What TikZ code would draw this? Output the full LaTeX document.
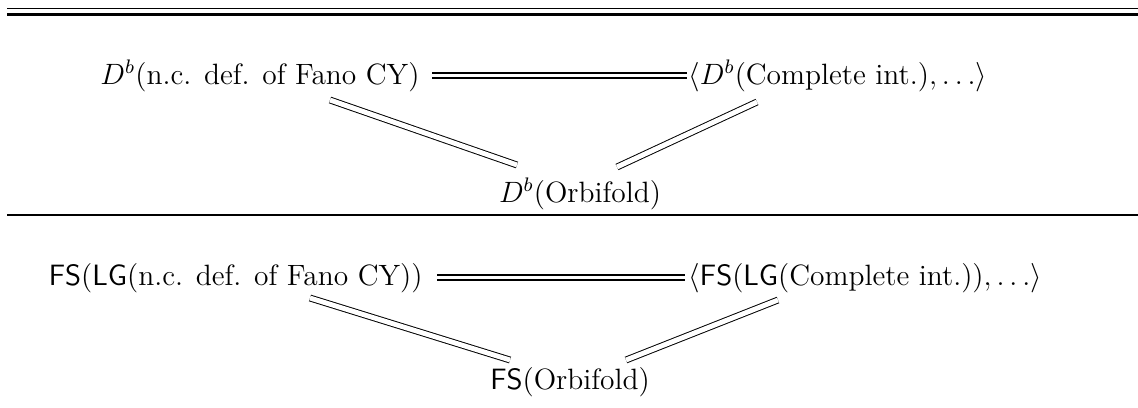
\documentclass[tikz,border=0pt]{standalone}
\usetikzlibrary{calc}
\begin{document}
\begin{tikzpicture}[x=0.4082pt,y=-0.4082pt,font=\fontsize{12}{14}\selectfont,
        lbl/.style={inner sep=0pt},
        eq/.style={double,line width=0.4pt,double distance=2pt},
        eqh/.style={double,line width=0.8pt,double distance=1.5pt}]
            \def\W{1138}
            \def\yA{84}
            \def\yB{202}
            \def\yC{285}
            \def\yD{389}

            \useasboundingbox (0,0) rectangle (\W,407);

            % rules
            \draw[line width=0.7pt] (7,8.5) -- (\W,8.5);
            \draw[line width=1.2pt] (7,14.5) -- (\W,14.5);
            \draw[line width=0.8pt] (7,215) -- (\W,215);

            % derived categories
            \node[lbl,anchor=base east] (ncA) at (420,\yA) {$D^b$(n.c. def. of Fano CY)};
            \node[lbl,anchor=base west] (ciA) at (688,\yA) {$\langle D^b$(Complete int.)$,\dots\rangle$};
            \node[lbl,anchor=base] (orbA) at (580,\yB) {$D^b$(Orbifold)};

            \draw[eqh] ($(ncA.east)+(12,0)$) -- ($(ciA.west)+(-1,0)$);
            \draw[eq] ($(ncA.base east)+(-90,16)$) -- ($(orbA.base)+(-63,-37)$);
            \draw[eq] ($(orbA.base)+(37,-35)$) -- ($(ciA.base west)+(69,18)$);

            % Fukaya--Seidel categories
            \node[lbl,anchor=base east] (ncB) at (423,\yC) {$\mathsf{FS}(\mathsf{LG}($n.c. def. of Fano CY$))$};
            \node[lbl,anchor=base west] (ciB) at (688,\yC) {$\langle\mathsf{FS}(\mathsf{LG}($Complete int.$)),\dots\rangle$};
            \node[lbl,anchor=base] (orbB) at (570,\yD) {$\mathsf{FS}($Orbifold$)$};

            \draw[eqh] ($(ncB.east)+(14,0)$) -- ($(ciB.west)+(-3,0)$);
            \draw[eq] ($(ncB.base east)+(-113,13)$) -- ($(orbB.base)+(-60,-29)$);
            \draw[eq] ($(orbB.base)+(56,-29)$) -- ($(ciB.base west)+(90,15)$);
        \end{tikzpicture}
\end{document}
